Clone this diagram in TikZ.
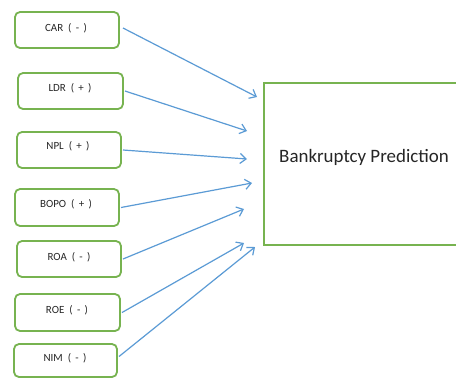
\documentclass[tikz,border=0pt]{standalone}
\usepackage{fontspec}
\setmainfont{Carlito}
\usetikzlibrary{arrows.meta}
\definecolor{boxgreen}{HTML}{77B350}
\definecolor{arrblue}{HTML}{5B9BD5}
\definecolor{txt}{HTML}{262626}
\begin{document}
\begin{tikzpicture}[x=1bp,y=-1bp,
  smallbox/.style={draw=boxgreen,line width=1.8bp,rounded corners=5bp,inner sep=0pt},
  lbl/.style={text=txt,font=\fontsize{11}{13}\selectfont,inner sep=0pt},
  conn/.style={draw=arrblue,line width=1.2bp,-{Straight Barb[length=6bp,width=10bp]}}]
\useasboundingbox (0,0) rectangle (456,379);
\clip (0,0) rectangle (456,379);
\fill[white] (0,0) rectangle (456,379);
% big box
\draw[boxgreen,line width=1.8bp] (470,83) -- (264,83) -- (264,245) -- (470,245);
\node[text=txt,font=\fontsize{19}{21}\selectfont,anchor=west,inner sep=0pt] (bp) at (279,157) {Bankruptcy Prediction};
% small boxes
\foreach \nm/\xa/\ya/\xb/\yb/\tx/\ty/\t in {
  car/15/12/119/48/66/28/{CAR\ \ (\ \,-\ \,)},
  ldr/18/73/123/109/70/88/{LDR\ \ (\ \,+\ \,)},
  npl/17/132/121/168/68/146/{NPL\ \ (\ \,+\ \,)},
  bopo/15/189/119/226/66/204/{BOPO\ \ (\ \,+\ \,)},
  roa/17/241/121/277/69/257/{ROA\ \ (\ \,-\ \,)},
  roe/15/294/120/331/67/310/{ROE\ \ (\ \,-\ \,)},
  nim/14/344/117/377/65/358/{NIM\ \ (\ \,-\ \,)}}{
  \draw[smallbox] (\xa,\ya) rectangle (\xb,\yb);
  \path (\xb,{(\ya+\yb)/2}) coordinate (\nm);
  \node[lbl] (\nm-t) at (\tx,\ty) {\t};
}
% arrow ends
\coordinate (e1) at (257,97);
\coordinate (e2) at (247,131);
\coordinate (e3) at (247,159);
\coordinate (e4) at (252,183);
\coordinate (e5) at (244,209);
\coordinate (e6) at (244,243);
\coordinate (e7) at (255,247);
\draw[conn] ([xshift=4bp,yshift=2bp]car) -- (e1);
\draw[conn] ([xshift=2bp]ldr) -- (e2);
\draw[conn] ([xshift=2bp]npl) -- (e3);
\draw[conn] ([xshift=2bp]bopo) -- (e4);
\draw[conn] ([xshift=2bp]roa) -- (e5);
\draw[conn] ([xshift=2bp]roe) -- (e6);
\draw[conn] ([xshift=2bp,yshift=4bp]nim) -- (e7);
\end{tikzpicture}
\end{document}
